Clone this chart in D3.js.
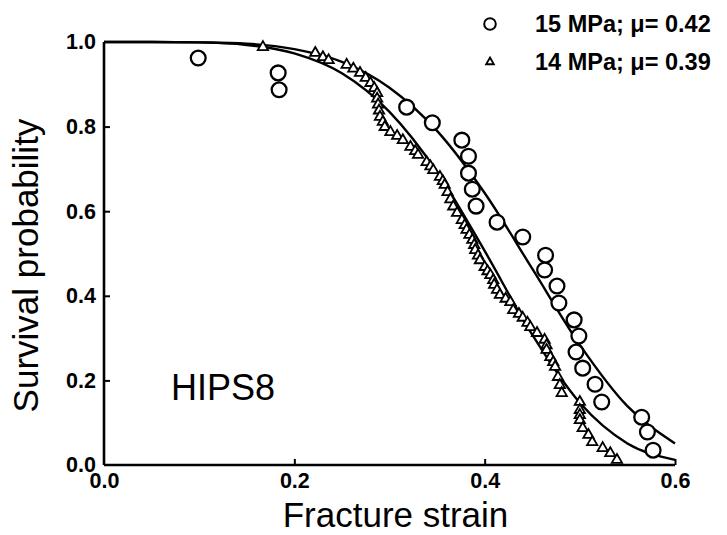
<!DOCTYPE html>
<html>
<head>
<meta charset="utf-8">
<script src="https://cdn.jsdelivr.net/npm/d3@7"></script>
<style>
  html, body { margin: 0; padding: 0; background: #fff; }
  svg { display: block; }
  text { font-family: "Liberation Sans", Arial, Helvetica, sans-serif; fill: #000; }
</style>
</head>
<body>
<svg id="chart" width="727" height="535"></svg>
<script>
// ---------------- data ----------------
const xTicks = [0.0, 0.2, 0.4, 0.6];
const yTicks = [0.0, 0.2, 0.4, 0.6, 0.8, 1.0];
const xTickLabels = ["0.0", "0.2", "0.4", "0.6"];
const yTickLabels = ["0.0", "0.2", "0.4", "0.6", "0.8", "1.0"];

const seriesNames = ["15 MPa; \u03bc= 0.42", "14 MPa; \u03bc= 0.39"];

// 15 MPa (circles): [fracture strain, survival probability]
const circles15 = [
  [0.099, 0.962], [0.183, 0.927], [0.184, 0.887], [0.318, 0.846], [0.345, 0.809],
  [0.376, 0.768], [0.383, 0.730], [0.383, 0.690], [0.387, 0.652], [0.391, 0.612],
  [0.413, 0.574], [0.440, 0.539], [0.464, 0.496], [0.463, 0.461], [0.476, 0.423],
  [0.478, 0.383], [0.494, 0.343], [0.499, 0.305], [0.496, 0.267], [0.503, 0.229],
  [0.516, 0.191], [0.523, 0.149], [0.565, 0.113], [0.571, 0.078], [0.577, 0.035]
];

// 14 MPa (triangles)
const triangles14 = [
  [0.167, 0.988], [0.222, 0.974], [0.230, 0.964], [0.236, 0.957], [0.255, 0.946],
  [0.262, 0.937], [0.269, 0.927], [0.275, 0.915], [0.280, 0.903], [0.284, 0.891],
  [0.287, 0.879], [0.287, 0.866], [0.288, 0.852], [0.289, 0.838], [0.290, 0.823],
  [0.293, 0.811], [0.295, 0.799], [0.301, 0.787], [0.308, 0.778], [0.314, 0.768],
  [0.322, 0.752], [0.327, 0.742], [0.330, 0.733], [0.339, 0.716], [0.343, 0.706],
  [0.346, 0.697], [0.353, 0.681], [0.356, 0.671], [0.358, 0.662], [0.361, 0.645],
  [0.364, 0.628], [0.367, 0.611], [0.371, 0.596], [0.376, 0.579], [0.379, 0.567],
  [0.381, 0.556], [0.384, 0.544], [0.387, 0.532], [0.389, 0.520], [0.390, 0.508],
  [0.393, 0.495], [0.395, 0.484], [0.400, 0.468], [0.403, 0.458], [0.406, 0.449],
  [0.409, 0.437], [0.410, 0.426], [0.413, 0.414], [0.416, 0.402], [0.422, 0.393],
  [0.427, 0.385], [0.430, 0.366], [0.436, 0.357], [0.440, 0.348], [0.445, 0.336],
  [0.448, 0.326], [0.455, 0.312], [0.463, 0.296], [0.465, 0.283], [0.465, 0.272],
  [0.469, 0.255], [0.472, 0.243], [0.474, 0.232], [0.477, 0.208], [0.479, 0.189],
  [0.481, 0.170], [0.500, 0.149], [0.500, 0.130], [0.500, 0.118], [0.500, 0.106],
  [0.503, 0.087], [0.509, 0.071], [0.513, 0.054], [0.524, 0.040], [0.532, 0.028],
  [0.539, 0.012]
];

// fitted curves
const curveX = [0.00, 0.05, 0.10, 0.15, 0.20, 0.25, 0.30, 0.35, 0.40, 0.45, 0.50, 0.55, 0.60];
const curve15 = [1.000, 1.000, 0.999, 0.996, 0.983, 0.953, 0.892, 0.790, 0.643, 0.464, 0.284, 0.139, 0.051];
const curve14 = [1.000, 1.000, 0.999, 0.993, 0.973, 0.926, 0.835, 0.693, 0.506, 0.308, 0.147, 0.051, 0.012];

const sampleLabel = "HIPS8";
const xTitle = "Fracture strain";
const yTitle = "Survival probability";

// ---------------- drawing ----------------
const svg = d3.select("#chart");
svg.append("rect").attr("width", 727).attr("height", 535).attr("fill", "#fff");

const x = d3.scaleLinear().domain([0, 0.6]).range([104, 675]);
const y = d3.scaleLinear().domain([0, 1]).range([465, 42]);

// axes
const xAxis = d3.axisBottom(x).tickValues(xTicks).tickSize(-6).tickPadding(8)
  .tickFormat((d, i) => xTickLabels[i]);
const yAxis = d3.axisLeft(y).tickValues(yTicks).tickSize(-6).tickPadding(8)
  .tickFormat((d, i) => yTickLabels[i]);

const gx = svg.append("g").attr("transform", `translate(0,${y(0)})`).call(xAxis);
const gy = svg.append("g").attr("transform", `translate(${x(0)},0)`).call(yAxis);

[gx, gy].forEach(g => {
  g.select(".domain").attr("stroke", "#000").attr("stroke-width", 2.6);
  g.selectAll(".tick line").attr("stroke", "#000").attr("stroke-width", 2);
  g.selectAll(".tick text")
    .attr("font-family", "'Liberation Sans', Arial, Helvetica, sans-serif")
    .attr("font-size", 21.5).attr("font-weight", "bold").attr("fill", "#000");
});
gx.select(".domain").attr("d", `M${x(0)},0H${x(0.6)}`);
gy.select(".domain").attr("d", `M0,${y(0)}V${y(1)}`);
gy.selectAll(".tick").filter(d => d === 0).select("line").remove();
gx.selectAll(".tick").filter(d => d === 0).select("line").remove();
gy.selectAll(".tick").filter(d => d === 1).select("line").remove();

// curves
const line = d3.line().x(d => x(d[0])).y(d => y(d[1])).curve(d3.curveMonotoneX);
[curve15, curve14].forEach(c => {
  svg.append("path")
    .datum(curveX.map((v, i) => [v, c[i]]))
    .attr("d", line)
    .attr("fill", "none").attr("stroke", "#000").attr("stroke-width", 2.4);
});

// triangles
const triSym = d3.symbol().type(d3.symbolTriangle).size(46);
svg.append("g").selectAll("path").data(triangles14).join("path")
  .attr("d", triSym)
  .attr("transform", d => `translate(${x(d[0])},${y(d[1])})`)
  .attr("fill", "#fff").attr("stroke", "#000").attr("stroke-width", 1.8);

// circles
svg.append("g").selectAll("circle").data(circles15).join("circle")
  .attr("cx", d => x(d[0])).attr("cy", d => y(d[1])).attr("r", 7.4)
  .attr("fill", "#fff").attr("stroke", "#000").attr("stroke-width", 2.3);

// titles
svg.append("text").attr("x", (x(0) + x(0.6)) / 2 + 6).attr("y", 527)
  .attr("text-anchor", "middle").attr("font-size", 35).text(xTitle);
svg.append("text")
  .attr("transform", `translate(38,${(y(0) + y(1)) / 2 + 12}) rotate(-90)`)
  .attr("text-anchor", "middle").attr("font-size", 35).text(yTitle);

// sample label
svg.append("text").attr("x", 171).attr("y", 400).attr("font-size", 36).text(sampleLabel);

// legend
const lg = svg.append("g");
lg.append("circle").attr("cx", 490).attr("cy", 24).attr("r", 5.8)
  .attr("fill", "#fff").attr("stroke", "#000").attr("stroke-width", 2);
lg.append("path").attr("d", d3.symbol().type(d3.symbolTriangle).size(26))
  .attr("transform", "translate(490,62)")
  .attr("fill", "#fff").attr("stroke", "#000").attr("stroke-width", 1.8);
lg.append("text").attr("x", 535).attr("y", 32).attr("font-size", 23.5).attr("font-weight", "bold").text(seriesNames[0]);
lg.append("text").attr("x", 535).attr("y", 70).attr("font-size", 23.5).attr("font-weight", "bold").text(seriesNames[1]);
</script>
</body>
</html>
